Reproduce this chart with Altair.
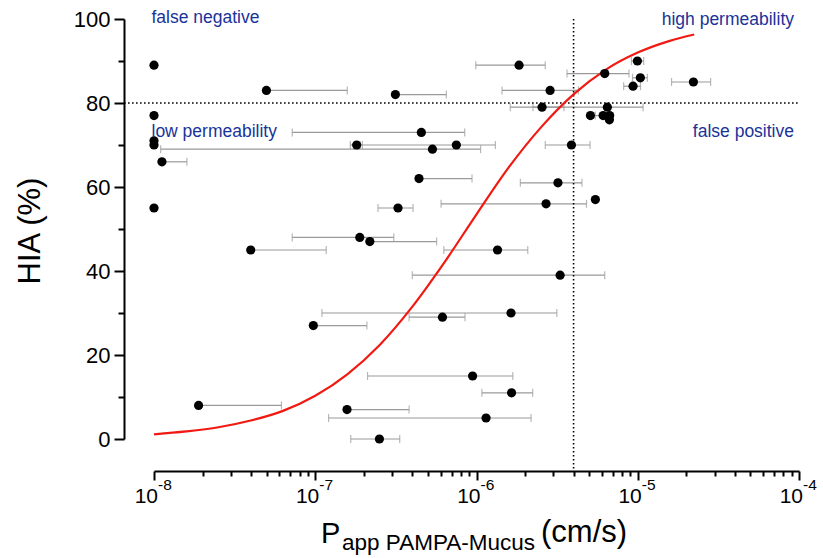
import altair as alt
import pandas as pd

# ---- data ----
papp = [1e-8, 4.98e-8, 3.14e-7, 1e-8, 4.55e-7, 1e-8, 1e-8, 5.33e-7, 1.806e-7, 7.5e-7,
        1.12e-8, 4.4e-7, 1e-8, 3.26e-7, 1.836e-6, 9.95e-6, 6.24e-6, 1.038e-5, 2.214e-5, 9.35e-6,
        2.86e-6, 2.55e-6, 6.48e-6, 5.09e-6, 6.1e-6, 6.7e-6, 6.67e-6, 3.88e-6, 3.2e-6, 5.46e-6,
        2.7e-6, 1.888e-7, 2.18e-7, 3.98e-8, 1.35e-6, 3.3e-6, 6.15e-7, 1.637e-6, 9.73e-8, 9.46e-7,
        1.65e-6, 1.89e-8, 1.574e-7, 1.146e-6, 2.5e-7]
hia = [89, 83, 82, 77, 73, 71, 70, 69, 70, 70,
       66, 62, 55, 55, 89, 90, 87, 86, 85, 84,
       83, 79, 79, 77, 77, 77, 76, 70, 61, 57,
       56, 48, 47, 45, 45, 39, 29, 30, 27, 15,
       11, 8, 7, 5, 0]
err_lo = [None, None, None, None, 7.2e-8, None, None, 1.1e-8, 1.65e-7, 1.9e-7,
          None, None, None, 2.45e-7, 9.9e-7, 9.14e-6, 3.64e-6, 9.28e-6, 1.62e-5, 8.18e-6,
          1.44e-6, 1.62e-6, 2.24e-6, None, 5.45e-6, None, None, 2.67e-6, 1.87e-6, None,
          6.03e-7, 7.2e-8, None, None, 6.27e-7, 4.0e-7, 3.82e-7, 1.10e-7, None, 2.11e-7,
          1.08e-6, None, None, 1.21e-7, 1.66e-7]
err_hi = [None, 1.58e-7, 6.5e-7, None, 8.45e-7, None, None, 1.06e-6, 1.96e-7, 1.31e-6,
          1.6e-8, 9.38e-7, None, 4.04e-7, 2.67e-6, 1.088e-5, 8.83e-6, 1.148e-5, 2.83e-5, 1.04e-5,
          4.29e-6, 3.49e-6, 1.079e-5, None, 6.7e-6, None, None, 5.06e-6, 4.51e-6, None,
          4.81e-6, 3.07e-7, 5.66e-7, 1.17e-7, 2.08e-6, 6.24e-6, 8.49e-7, 3.15e-6, 2.09e-7, 1.68e-6,
          2.23e-6, 6.17e-8, 3.82e-7, 2.18e-6, 3.34e-7]

curve_x = [1e-8, 1.58e-8, 2.51e-8, 3.98e-8, 6.31e-8, 1e-7, 1.58e-7, 2.51e-7, 3.98e-7,
           6.31e-7, 1e-6, 1.58e-6, 2.51e-6, 3.98e-6, 6.31e-6, 1e-5, 1.58e-5, 2.24e-5]
curve_y = [1.1, 1.8, 2.8, 4.4, 6.7, 10.3, 15.4, 22.4, 31.4,
           42.0, 53.5, 64.6, 74.2, 82.0, 87.9, 92.0, 94.8, 96.3]

cutoff_x = 4e-6
cutoff_y = 80

tick_label_x = [1e-8, 1e-7, 1e-6, 1e-5, 1e-4]
tick_label_exp = ["-8", "-7", "-6", "-5", "-4"]

notes_left = ["false negative", "low permeability"]
notes_left_y = [99.0, 71.8]
notes_right = ["high permeability", "false positive"]
notes_right_y = [98.6, 71.8]

# ---- layout ----
W, H = 645, 420
FONT = "Liberation Sans"
BLUE = "#1a3399"
GREY = "#9a9a9a"

df = pd.DataFrame({"papp": papp, "hia": hia, "lo": err_lo, "hi": err_hi})
bars = df[df["lo"].notna() | df["hi"].notna()].copy()
bars["start"] = bars["lo"].fillna(bars["papp"])
bars["end"] = bars["hi"].fillna(bars["papp"])
caps = pd.concat([
    df[["lo", "hia"]].rename(columns={"lo": "cx"}),
    df[["hi", "hia"]].rename(columns={"hi": "cx"}),
]).dropna()
curve = pd.DataFrame({"px": curve_x, "py": curve_y})
lab = pd.DataFrame({"lx": tick_label_x, "exp": tick_label_exp, "base": ["10"] * 5})
nl = pd.DataFrame({"nx": [1e-8] * 2, "ny": notes_left_y, "t": notes_left})
nr = pd.DataFrame({"nx": [1e-4] * 2, "ny": notes_right_y, "t": notes_right})

xvals = [m * 10.0 ** e for e in range(-8, -4) for m in range(1, 10)] + [1e-4]
xscale = alt.Scale(type="log", domain=[1e-8, 1e-4], nice=False)
yscale = alt.Scale(domain=[0, 100], nice=False)

xaxis = alt.Axis(
    values=xvals, labels=False, title=None, grid=False, offset=32,
    domainColor="black", domainWidth=2, tickColor="black", tickWidth=2,
    tickSize={"condition": {"test": "abs(log(datum.value)/LN10 - round(log(datum.value)/LN10)) < 0.001", "value": 9}, "value": 5},
)
yaxis = alt.Axis(
    values=list(range(0, 101, 10)), title=None, grid=False, offset=30,
    domainColor="black", domainWidth=2, tickColor="black", tickWidth=2,
    tickSize={"condition": {"test": "datum.value % 20 == 0", "value": 10}, "value": 6},
    labelExpr="datum.value % 20 == 0 ? datum.label : ''",
    labelFont=FONT, labelFontSize=22, labelColor="black", labelPadding=4,
)


def X(f):
    return alt.X(f, type="quantitative", scale=xscale, axis=xaxis)


def Y(f):
    return alt.Y(f, type="quantitative", scale=yscale, axis=yaxis)


rules = alt.Chart(bars).mark_rule(color=GREY, strokeWidth=1.2).encode(
    x=X("start"), x2="end", y=Y("hia"))
capm = alt.Chart(caps).mark_tick(color=GREY, thickness=1.2, size=8, orient="vertical").encode(
    x=X("cx"), y=Y("hia"))

vline = alt.Chart(pd.DataFrame({"v": [cutoff_x]})).mark_rule(
    color="black", strokeWidth=1.6, strokeDash=[1.6, 2.4]).encode(
    x=X("v"), y=alt.datum(100, scale=yscale), y2=alt.value(H + 32))
hline = alt.Chart(pd.DataFrame({"h": [cutoff_y]})).mark_rule(
    color="black", strokeWidth=1.6, strokeDash=[1.6, 2.4]).encode(
    y=Y("h"), x=alt.value(-30), x2=alt.value(W))

line = alt.Chart(curve).mark_line(color="#f01a12", strokeWidth=2.2, interpolate="monotone").encode(
    x=X("px"), y=Y("py"))

pts = alt.Chart(df).mark_circle(size=85, color="black", opacity=1).encode(
    x=X("papp"), y=Y("hia"))

txt_l = alt.Chart(nl).mark_text(align="left", baseline="alphabetic", font=FONT, fontSize=17.5,
                                color=BLUE, dx=-2.5).encode(x=X("nx"), y=Y("ny"), text="t:N")
txt_r = alt.Chart(nr).mark_text(align="right", baseline="alphabetic", font=FONT, fontSize=17.5,
                                color=BLUE, dx=-5).encode(x=X("nx"), y=Y("ny"), text="t:N")

lab_base = alt.Chart(lab).mark_text(align="right", baseline="alphabetic", font=FONT, fontSize=21,
                                    color="black", dx=4).encode(x=X("lx"), y=alt.value(484), text="base:N")
lab_exp = alt.Chart(lab).mark_text(align="left", baseline="alphabetic", font=FONT, fontSize=15.5,
                                   color="black", dx=4).encode(x=X("lx"), y=alt.value(471), text="exp:N")

t_p = alt.Chart(pd.DataFrame({"t": ["P"]})).mark_text(
    align="left", baseline="alphabetic", font=FONT, fontSize=29, color="black").encode(
    x=alt.value(167), y=alt.value(524), text="t:N")
t_sub = alt.Chart(pd.DataFrame({"t": ["app PAMPA-Mucus"]})).mark_text(
    align="left", baseline="alphabetic", font=FONT, fontSize=22.5, color="black").encode(
    x=alt.value(188), y=alt.value(531), text="t:N")
t_unit = alt.Chart(pd.DataFrame({"t": ["(cm/s)"]})).mark_text(
    align="left", baseline="alphabetic", font=FONT, fontSize=31, color="black").encode(
    x=alt.value(387), y=alt.value(523), text="t:N")
t_y = alt.Chart(pd.DataFrame({"t": ["HIA (%)"]})).mark_text(
    align="center", baseline="alphabetic", font=FONT, fontSize=31, color="black", angle=270).encode(
    x=alt.value(-114), y=alt.value(212), text="t:N")

chart = alt.layer(
    rules, capm, vline, hline, line, pts, txt_l, txt_r, lab_base, lab_exp, t_p, t_sub, t_unit, t_y
).properties(
    width=W, height=H,
    autosize=alt.AutoSizeParams(type="none"),
    padding={"left": 154, "top": 19, "right": 24, "bottom": 119},
).configure(background="white", view=alt.ViewConfig(stroke=None))

chart.save("out.html", embed_options={"renderer": "svg", "actions": False})
